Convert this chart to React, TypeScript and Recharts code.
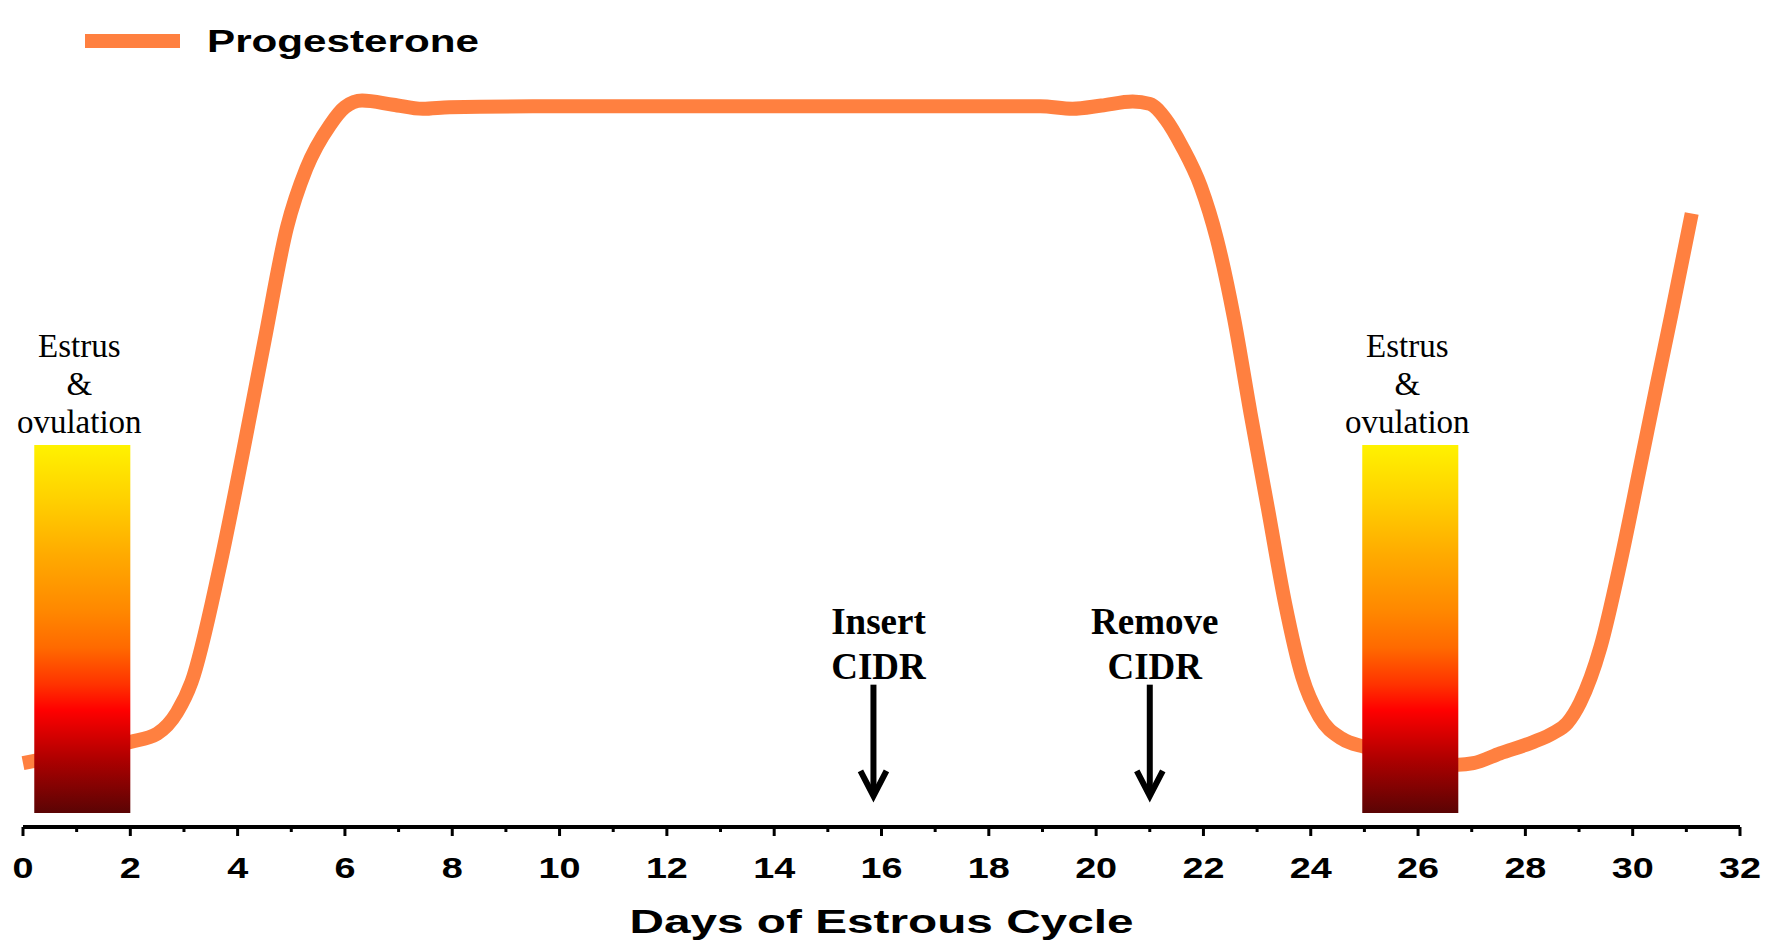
import React from "react";
import {
  Legend,
  Line,
  LineChart,
  ReferenceArea,
  ReferenceLine,
  XAxis,
  YAxis,
} from "recharts";

// progesterone curve (y is a 0-100 relative scale)
const days = [
  0, 1, 2, 2.5, 2.87, 3.14, 3.66, 4.09, 4.5, 4.92, 5.28, 5.72, 6.0, 6.32, 6.9,
  7.45, 7.95, 9.5, 12, 15, 18.96, 19.56, 20.1, 20.68, 21.0, 21.3, 21.6, 21.95,
  22.25, 22.57, 22.88, 23.2, 23.52, 23.84, 24.16, 24.58, 25.0, 25.9, 26.75,
  27.03, 27.53, 28.15, 28.52, 28.78, 29.02, 29.4, 29.77, 30.14, 30.46, 30.72,
  31.1,
];
const progesterone = [
  7.8, 9.1, 10.4, 11.4, 14, 17.7, 31.6, 45.5, 59.4, 73.3, 80.5, 85.8, 88, 88.8,
  88.3, 87.8, 88.0, 88.1, 88.1, 88.1, 88.1, 87.8, 88.2, 88.7, 88.4, 86.5, 83.2,
  78.3, 71.9, 62.2, 50.5, 39.0, 27.4, 18.4, 13.5, 10.8, 9.8, 8.7, 7.6, 7.8, 9.0,
  10.4, 11.5, 12.7, 15.2, 22.0, 32.3, 44.1, 54.4, 62.6, 75.0,
];

const dayTicks = Array.from({ length: 33 }, (_, i) => i);

// estrus windows (start day, end day) and bar extent on the y scale
const estrusWindows = [
  [0.21, 2.0],
  [24.96, 26.75],
];
const estrusBar = [1.7, 46.7];
const estrusText = ["Estrus", "&", "ovulation"];

// CIDR events: day, label lines
const cidrDays = [15.85, 21.0];
const cidrLabels = [
  ["Insert", "CIDR"],
  ["Remove", "CIDR"],
];
const arrowSpan = [17.4, 3.8];

const data = days.map((d, i) => ({ day: d, p: progesterone[i] }));

const ORANGE = "#FF8040";
const SANS = "'Liberation Sans', Arial, sans-serif";
const SERIF = "'Liberation Serif', 'Times New Roman', serif";

function DayTick(props: any) {
  const { x, y, payload } = props;
  const v = payload.value;
  const major = v % 2 === 0;
  const s = String(v);
  return (
    <g>
      <line x1={x} y1={y} x2={x} y2={y + (major ? 9 : 5)} stroke="#000" strokeWidth={3} />
      {major && (
        <text
          x={x}
          y={y + 51}
          textAnchor="middle"
          fontFamily={SANS}
          fontWeight="bold"
          fontSize={30}
          textLength={s.length * 21}
          lengthAdjust="spacingAndGlyphs"
          fill="#000"
        >
          {s}
        </text>
      )}
    </g>
  );
}

function AxisTitle(props: any) {
  const vb = props.viewBox || {};
  return (
    <text
      x={vb.x + vb.width / 2}
      y={vb.y + 106}
      textAnchor="middle"
      fontFamily={SANS}
      fontWeight="bold"
      fontSize={33}
      textLength={504}
      lengthAdjust="spacingAndGlyphs"
      fill="#000"
    >
      Days of Estrous Cycle
    </text>
  );
}

function EstrusLabel(props: any) {
  const vb = props.viewBox || {};
  const cx = vb.x + vb.width / 2 - 3;
  return (
    <g>
      {estrusText.map((t, i) => (
        <text
          key={t}
          x={cx}
          y={vb.y - 88 + i * 38}
          textAnchor="middle"
          fontFamily={SERIF}
          fontSize={33}
          fill="#000"
        >
          {t}
        </text>
      ))}
    </g>
  );
}

function CidrArrow(props: any) {
  const { x1, y1, y2, lines } = props;
  return (
    <g>
      {lines.map((t: string, i: number) => (
        <text
          key={t}
          x={x1 + 5}
          y={y1 - 51 + i * 45}
          textAnchor="middle"
          fontFamily={SERIF}
          fontWeight="bold"
          fontSize={37}
          fill="#000"
        >
          {t}
        </text>
      ))}
      <line x1={x1} y1={y1} x2={x1} y2={y2 - 3} stroke="#000" strokeWidth={6} />
      <polyline
        points={`${x1 - 13},${y2 - 25} ${x1},${y2} ${x1 + 13},${y2 - 25}`}
        fill="none"
        stroke="#000"
        strokeWidth={6}
      />
    </g>
  );
}

function LegendContent(props: any) {
  const item = (props.payload || [])[0];
  if (!item) return null;
  return (
    <svg width={420} height={60}>
      <rect x={5} y={24} width={95} height={14} fill={item.color} />
      <text
        x={127}
        y={42}
        fontFamily={SANS}
        fontWeight="bold"
        fontSize={32}
        textLength={272}
        lengthAdjust="spacingAndGlyphs"
        fill="#000"
      >
        {item.value}
      </text>
    </svg>
  );
}

export default function App() {
  return (
    <div style={{ position: "absolute", left: 0, top: 0, background: "#fff" }}>
      <LineChart
        width={1783}
        height={944}
        data={data}
        margin={{ top: 9, right: 43, bottom: 57, left: 23 }}
      >
        <defs>
          <linearGradient id="estrusFill" x1="0" y1="0" x2="0" y2="1">
            <stop offset="0" stopColor="#FFF200" />
            <stop offset="0.15" stopColor="#FFD000" />
            <stop offset="0.3" stopColor="#FFAA00" />
            <stop offset="0.45" stopColor="#FF8800" />
            <stop offset="0.55" stopColor="#FF6A00" />
            <stop offset="0.65" stopColor="#FF3300" />
            <stop offset="0.72" stopColor="#FF0000" />
            <stop offset="0.85" stopColor="#B00000" />
            <stop offset="1" stopColor="#5A0404" />
          </linearGradient>
        </defs>
        <XAxis
          dataKey="day"
          type="number"
          domain={[0, 32]}
          ticks={dayTicks}
          interval={0}
          tickLine={false}
          tickSize={0}
          tickMargin={0}
          height={60}
          axisLine={{ stroke: "#000", strokeWidth: 4 }}
          tick={<DayTick />}
          label={<AxisTitle />}
        />
        <YAxis
          type="number"
          domain={[0, 100]}
          width={0}
          tick={false}
          tickLine={false}
          axisLine={{ stroke: "#000", strokeWidth: 4 }}
        />
        <Legend
          layout="vertical"
          align="center"
          verticalAlign="middle"
          wrapperStyle={{ left: 80, top: 10, width: 420, height: 60 }}
          content={<LegendContent />}
        />
        <Line
          type="monotone"
          dataKey="p"
          name="Progesterone"
          stroke={ORANGE}
          strokeWidth={14}
          dot={false}
          activeDot={false}
          strokeLinejoin="round"
          isAnimationActive={false}
        />
        {estrusWindows.map(([a, b], i) => (
          <ReferenceArea
            key={`estrus-${i}`}
            x1={a}
            x2={b}
            y1={estrusBar[0]}
            y2={estrusBar[1]}
            fill="url(#estrusFill)"
            fillOpacity={1}
            stroke="none"
            zIndex={450}
            label={<EstrusLabel />}
          />
        ))}
        {cidrDays.map((d, i) => (
          <ReferenceLine
            key={`cidr-${i}`}
            segment={[
              { x: d, y: arrowSpan[0] },
              { x: d, y: arrowSpan[1] },
            ]}
            zIndex={450}
            shape={(p: any) => <CidrArrow {...p} lines={cidrLabels[i]} />}
          />
        ))}
      </LineChart>
    </div>
  );
}
